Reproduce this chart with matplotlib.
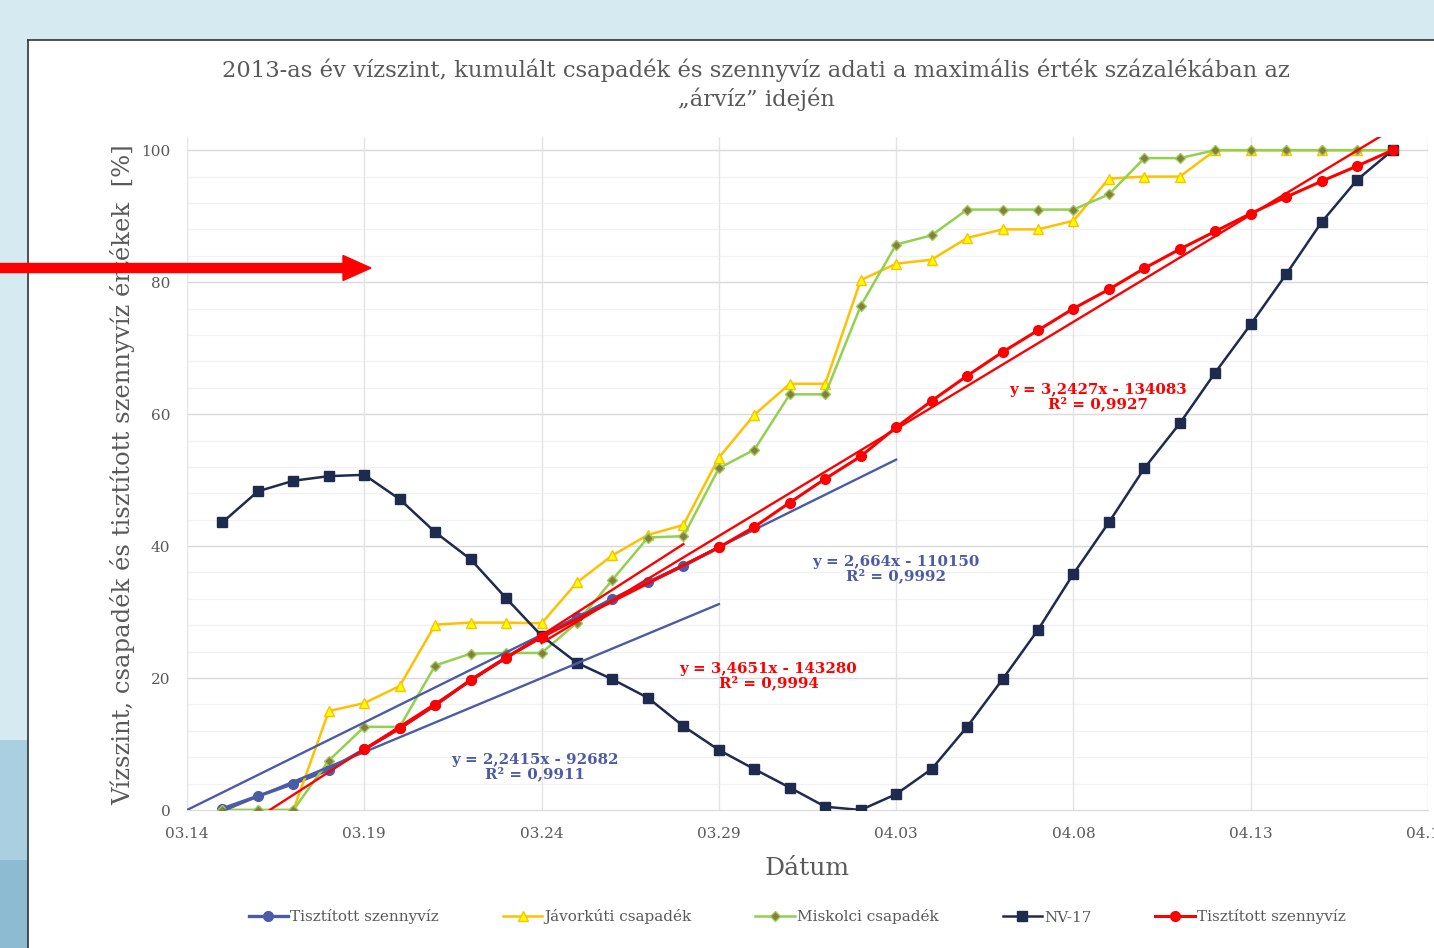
import matplotlib
matplotlib.use("Agg")
import matplotlib.pyplot as plt
import matplotlib.dates as mdates
import matplotlib.patches as mpatches
import numpy as np
import pandas as pd

plt.rcParams['font.family'] = ['DejaVu Serif']

# napi adatok 03.15 - 04.17, a max. ertek %-aban
dates = pd.date_range("2013-03-15", "2013-04-17", freq="D")

nv17 = [43.6, 48.3, 49.9, 50.6, 50.8, 47.1, 42.1, 38.0, 32.1, 26.4, 22.3, 19.8, 17.0,
        12.7, 9.1, 6.2, 3.4, 0.5, 0.0, 2.4, 6.2, 12.6, 19.8, 27.3, 35.8, 43.6, 51.8,
        58.6, 66.3, 73.6, 81.2, 89.1, 95.5, 100.0]
javorkut = [0, 0, 0, 15.0, 16.2, 18.8, 28.1, 28.4, 28.4, 28.3, 34.5, 38.6, 41.7, 43.2,
            53.4, 59.9, 64.6, 64.6, 80.3, 82.8, 83.4, 86.7, 88.0, 88.0, 89.3, 95.7, 96.0,
            96.0, 100, 100, 100, 100, 100, 100]
miskolc = [0, 0, 0, 7.5, 12.6, 12.6, 21.9, 23.7, 23.8, 23.8, 28.4, 34.9, 41.3, 41.5,
           51.8, 54.6, 63.0, 63.0, 76.4, 85.7, 87.1, 91.0, 91.0, 91.0, 91.0, 93.3, 98.8,
           98.8, 100, 100, 100, 100, 100, 100]
nan = np.nan
szennyviz_kek = [0.2, 2.1, 4.0, 6.1, 9.2, 12.4, 15.9, 19.7, 23.1, 26.3, 29.2, 32.0, 34.5,
                 37.0, 39.8] + [nan] * 19
szennyviz_piros = [nan, nan, nan, nan, 9.2, 12.4, 15.9, 19.7, 23.1, 26.2, nan, nan, nan,
                   nan, 39.8, 42.9, 46.6, 50.2, 53.6, 58.0, 62.0, 65.8, 69.4, 72.7, 76.0,
                   78.9, 82.1, 85.0, 87.7, 90.4, 92.9, 95.3, 97.6, 100.0]

# trendvonalak vegpontjai (datum, %)
trend_kek1 = (["2013-03-15 02:00", "2013-03-29 00:00"], [0.0, 31.2])
trend_kek2 = (["2013-03-14 00:00", "2013-04-03 00:00"], [0.0, 53.1])
trend_piros1 = (["2013-03-16 08:00", "2013-03-28 00:00"], [0.0, 40.3])
trend_piros2 = (["2013-03-24 00:00", "2013-04-17 00:00"], [25.3, 103.2])

labels_trend = {
    "kek1": "y = 2,2415x - 92682\nR² = 0,9911",
    "kek2": "y = 2,664x - 110150\nR² = 0,9992",
    "piros1": "y = 3,4651x - 143280\nR² = 0,9994",
    "piros2": "y = 3,2427x - 134083\nR² = 0,9927",
}

BLUE = "#4b5ba6"
RED = "#ff0000"
NAVY = "#1f2a4f"
GREY = "#595959"

W, H = 1434, 948
fig = plt.figure(figsize=(W / 100, H / 100), dpi=100, facecolor="#d6eaf2")


def fx(px):
    return px / W


def fy(py):
    return 1 - py / H


# a dia hatter
fig.patches.append(mpatches.Rectangle((0, 0), fx(28), fy(740), transform=fig.transFigure,
                                      facecolor="#a9cfe0", edgecolor="none", zorder=-2))
fig.patches.append(mpatches.Rectangle((0, fy(948)), fx(28), fy(860) - fy(948),
                                      transform=fig.transFigure, facecolor="#8dbcd2",
                                      edgecolor="none", zorder=-2))
fig.patches.append(mpatches.Rectangle((fx(28), 0), 1 - fx(28), fy(40), transform=fig.transFigure,
                                      facecolor="white", edgecolor="none", zorder=-2))
fig.add_artist(plt.Line2D([fx(28), 1], [fy(40), fy(40)], color="#333333", lw=1.2, zorder=-1))
fig.add_artist(plt.Line2D([fx(28), fx(28)], [0, fy(40)], color="#333333", lw=1.2, zorder=-1))

ax = fig.add_axes([fx(187), fy(810), fx(1428) - fx(187), fy(137) - fy(810)])
ax.set_facecolor("white")
ax.set_zorder(1)

t0 = pd.Timestamp("2013-03-14")
ax.set_xlim(t0, pd.Timestamp("2013-04-18"))
ax.set_ylim(0, 102)

# racs
for y in np.arange(4, 100, 4):
    if y % 20:
        ax.axhline(y, color="#f2f2f2", lw=1, zorder=0)
for y in range(20, 101, 20):
    ax.axhline(y, color="#d9d9d9", lw=1, zorder=0)
xt = pd.date_range(t0, periods=8, freq="5D")
ax.set_xticks(xt)
ax.xaxis.set_major_formatter(mdates.DateFormatter("%m.%d"))
for d in xt:
    ax.axvline(d, color="#e3e3e3", lw=1, zorder=0)
ax.set_yticks(range(0, 101, 20))
for s in ["top", "right", "left"]:
    ax.spines[s].set_visible(False)
ax.spines["bottom"].set_color("#d9d9d9")
ax.tick_params(length=0, labelsize=11, labelcolor=GREY)
ax.tick_params(axis="x", pad=12)
ax.tick_params(axis="y", pad=12)

ax.plot(dates, szennyviz_kek, color=BLUE, lw=2.4, marker="o", markersize=7,
        label="Tisztított szennyvíz", zorder=3)
ax.plot(dates, javorkut, color="#ffc000", lw=1.8, marker="^", markersize=7,
        markerfacecolor="#ffff00", markeredgecolor="#ffc000", label="Jávorkúti csapadék", zorder=3)
ax.plot(dates, miskolc, color="#92d050", lw=1.8, marker="D", markersize=5.5,
        markerfacecolor="#8c7a3e", markeredgecolor="#92d050", label="Miskolci csapadék", zorder=3)
ax.plot(dates, nv17, color=NAVY, lw=1.8, marker="s", markersize=7.5, label="NV-17", zorder=3)
piros = np.array(szennyviz_piros)
ok = ~np.isnan(piros)
ax.plot(dates[ok], piros[ok], color=RED, lw=2.2, marker="o", markersize=7,
        label="Tisztított szennyvíz", zorder=4)

for tr, c in [(trend_kek1, BLUE), (trend_kek2, BLUE), (trend_piros1, RED), (trend_piros2, RED)]:
    ax.plot([pd.Timestamp(s) for s in tr[0]], tr[1], color=c, lw=1.7, zorder=3.5)

day = mdates.date2num(t0)
fnt = dict(fontsize=10.8, fontweight="bold", ha="center", va="center", linespacing=1.0)
ax.text(day + 9.8, 6.5, labels_trend["kek1"], color=BLUE, **fnt)
ax.text(day + 20.0, 36.5, labels_trend["kek2"], color=BLUE, **fnt)
ax.text(day + 16.4, 20.3, labels_trend["piros1"], color=RED, **fnt)
ax.text(day + 25.7, 62.6, labels_trend["piros2"], color=RED, **fnt)

ax.set_xlabel("Dátum", fontsize=18, color=GREY, labelpad=12)
fig.text(fx(123), fy(475), "Vízszint, csapadék és tisztított szennyvíz értékek  [%]",
         rotation=90, ha="center", va="center", fontsize=17.5, color=GREY)
fig.text(fx(756), fy(85), "2013-as év vízszint, kumulált csapadék és szennyvíz adati a maximális érték százalékában az\n„árvíz” idején",
         ha="center", va="center", fontsize=16.3, color=GREY, linespacing=1.3)

ax.legend(loc="center", bbox_to_anchor=(fx(797), fy(917)), bbox_transform=fig.transFigure,
          ncol=5, frameon=False, fontsize=11, labelcolor=GREY, handlelength=2.6,
          handletextpad=0.1, columnspacing=4.2)

# piros nyil
fig.patches.append(mpatches.FancyArrow(0, fy(268), fx(371), 0, width=9 / H, head_width=25 / H,
                                       head_length=fx(28), length_includes_head=True,
                                       transform=fig.transFigure, color=RED, zorder=10))

fig.savefig("out.png", dpi=100, facecolor=fig.get_facecolor())
